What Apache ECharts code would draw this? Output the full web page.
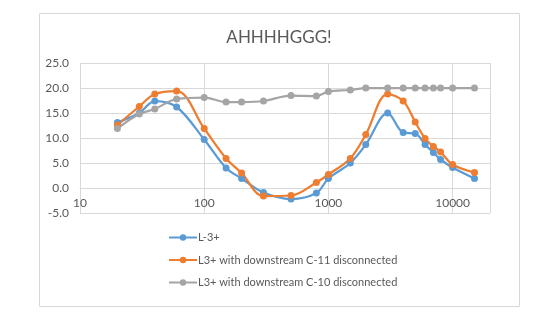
<!DOCTYPE html>
<html>
<head>
<meta charset="utf-8">
<script src="https://cdn.jsdelivr.net/npm/echarts@6/dist/echarts.min.js"></script>
<style>
  html, body { margin: 0; padding: 0; background: #fff; }
  #chart { width: 558px; height: 326px; }
</style>
</head>
<body>
<div id="chart"></div>
<script>
// Frequencies (Hz) at which each configuration was measured
const freqs = [20, 30, 40, 60, 100, 150, 200, 300, 500, 800, 1000, 1500, 2000, 3000, 4000, 5000, 6000, 7000, 8000, 10000, 15000];

// Response values per configuration
const seriesNames = [
  'L-3+',
  'L3+ with downstream C-11 disconnected',
  'L3+ with downstream C-10 disconnected'
];
const l3 = [13.1, 15.0, 17.4, 16.2, 9.7, 4.0, 1.9, -0.9, -2.2, -1.0, 1.9, 5.0, 8.7, 15.0, 11.1, 10.9, 8.7, 7.1, 5.7, 4.1, 1.9];
const c11Off = [12.6, 16.3, 18.8, 19.4, 11.9, 5.9, 3.0, -1.6, -1.5, 1.1, 2.7, 5.9, 10.7, 18.8, 17.4, 13.2, 9.9, 8.3, 7.2, 4.7, 3.1];
const c10Off = [11.9, 14.8, 15.8, 17.8, 18.1, 17.2, 17.2, 17.4, 18.5, 18.4, 19.3, 19.6, 20.0, 20.0, 20.0, 20.0, 20.0, 20.0, 20.0, 20.0, 20.0];

const colors = ['#5B9BD5', '#ED7D31', '#A5A5A5'];
const textColor = '#595959';
const font = 'Lato, "Open Sans", sans-serif';

const pairs = vals => freqs.map((f, i) => [f, vals[i]]);

const makeSeries = (name, vals, color) => ({
  name,
  type: 'line',
  data: pairs(vals),
  smooth: 0.35,
  symbol: 'circle',
  symbolSize: 7,
  lineStyle: { width: 2.25, color },
  itemStyle: { color },
  emphasis: { disabled: true }
});

const chart = echarts.init(document.getElementById('chart'), null, { renderer: 'canvas' });
chart.setOption({
  animation: false,
  color: colors,
  title: {
    text: 'AHHHHGGG!',
    left: 'center',
    top: 24,
    textStyle: { fontFamily: font, fontSize: 17, fontWeight: 'normal', color: textColor }
  },
  grid: { left: 80, right: 68, top: 63, bottom: 113, containLabel: false },
  xAxis: {
    type: 'log',
    logBase: 10,
    min: 10,
    max: 20000,
    // the horizontal axis crosses the value axis at 0
    offset: -25,
    axisLine: { onZero: false, lineStyle: { color: '#d9d9d9', width: 1 } },
    axisTick: { show: false },
    axisLabel: {
      color: textColor, fontFamily: font, fontSize: 12, margin: 9, showMaxLabel: false,
      formatter: v => String(Math.round(v))
    },
    splitLine: { show: true, lineStyle: { color: '#d9d9d9', width: 1 } }
  },
  yAxis: {
    type: 'value',
    min: -5,
    max: 25,
    interval: 5,
    axisLine: { show: false },
    axisTick: { show: false },
    axisLabel: {
      color: textColor, fontFamily: font, fontSize: 12, margin: 11,
      formatter: v => v.toFixed(1)
    },
    splitLine: { lineStyle: { color: '#d9d9d9', width: 1 } }
  },
  legend: {
    orient: 'vertical',
    left: 163,
    top: 227,
    itemWidth: 28,
    itemHeight: 8,
    itemGap: 11.5,
    textStyle: { color: textColor, fontFamily: font, fontSize: 11, padding: [0, 0, 0, -4] },
    data: seriesNames
  },
  graphic: [{
    type: 'rect',
    shape: { x: 39.5, y: 13.5, width: 480, height: 293 },
    style: { fill: 'none', stroke: '#d9d9d9', lineWidth: 1 },
    silent: true,
    z: -1
  }],
  series: [
    makeSeries(seriesNames[0], l3, colors[0]),
    makeSeries(seriesNames[1], c11Off, colors[1]),
    makeSeries(seriesNames[2], c10Off, colors[2])
  ]
});
</script>
</body>
</html>
